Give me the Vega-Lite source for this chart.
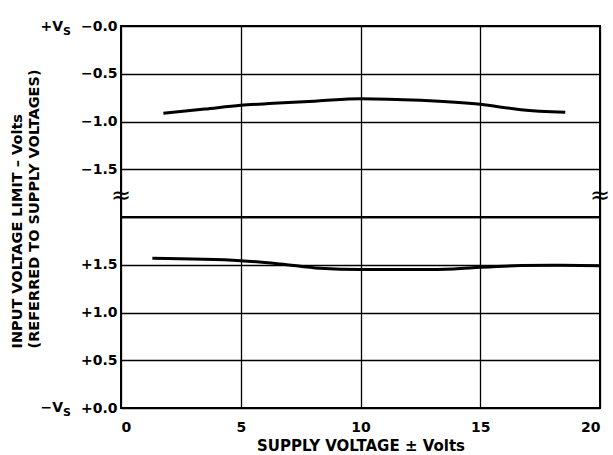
{
  "$schema": "https://vega.github.io/schema/vega-lite/v6.json",
  "padding": {"left": 8, "top": 18, "right": 12, "bottom": 0},
  "spacing": 0,
  "bounds": "flush",
  "background": "white",
  "config": {
    "font": "DejaVu Sans",
    "view": {"stroke": "black", "strokeWidth": 2},
    "axis": {
      "gridColor": "black", "gridWidth": 1.3, "gridOpacity": 1,
      "domain": false, "ticks": false,
      "labelFont": "DejaVu Sans", "labelFontWeight": "bold", "labelFontSize": 14, "labelColor": "black",
      "titleFont": "DejaVu Sans", "titleFontWeight": "bold", "titleFontSize": 14.5, "titleColor": "black"
    }
  },
  "datasets": {
    "upper": [
      {"supply": 1.77, "limit": -0.914},
      {"supply": 3.5, "limit": -0.87},
      {"supply": 5.0, "limit": -0.83},
      {"supply": 6.36, "limit": -0.81},
      {"supply": 8.2, "limit": -0.785},
      {"supply": 10.0, "limit": -0.761},
      {"supply": 12.5, "limit": -0.778},
      {"supply": 15.0, "limit": -0.82},
      {"supply": 16.7, "limit": -0.876},
      {"supply": 18.55, "limit": -0.904}
    ],
    "lower": [
      {"supply": 1.31, "limit": 1.567},
      {"supply": 5.0, "limit": 1.543},
      {"supply": 6.64, "limit": 1.509},
      {"supply": 8.3, "limit": 1.463},
      {"supply": 10.0, "limit": 1.449},
      {"supply": 12.5, "limit": 1.449},
      {"supply": 13.9, "limit": 1.456},
      {"supply": 15.0, "limit": 1.473},
      {"supply": 16.7, "limit": 1.491},
      {"supply": 18.0, "limit": 1.494},
      {"supply": 20.0, "limit": 1.49}
    ],
    "marks": [
      {"label": "≈", "supply": 0, "limit": -1.78},
      {"label": "≈", "supply": 20, "limit": -1.78}
    ]
  },
  "vconcat": [
    {
      "width": 479,
      "height": 191,
      "layer": [
        {
          "data": {"name": "upper"},
          "mark": {"type": "line", "color": "black", "strokeWidth": 3, "interpolate": "monotone"},
          "encoding": {
            "x": {"field": "supply", "type": "quantitative", "scale": {"domain": [0, 20], "nice": false},
                  "axis": {"values": [0, 5, 10, 15, 20], "labels": false, "title": null, "grid": true}},
            "y": {"field": "limit", "type": "quantitative", "scale": {"domain": [-2, 0], "nice": false},
                  "axis": {"values": [-2, -1.5, -1, -0.5, 0], "grid": true, "labelPadding": 4,
                           "labelExpr": "datum.value <= -2 ? '' : '−' + format(abs(datum.value), '.1f')",
                           "title": ["INPUT VOLTAGE LIMIT – Volts", "(REFERRED TO SUPPLY VOLTAGES)"],
                           "titleAngle": -90, "titleAlign": "left", "titleBaseline": "bottom",
                           "titleX": -97, "titleY": 322, "titleLineHeight": 17}}
          }
        },
        {
          "data": {"name": "marks"},
          "mark": {"type": "text", "fontSize": 24, "color": "black", "align": "center", "baseline": "middle", "clip": false},
          "encoding": {
            "x": {"field": "supply", "type": "quantitative"},
            "y": {"field": "limit", "type": "quantitative"},
            "text": {"field": "label"}
          }
        },
        {
          "data": {"values": [{"supply": 0, "limit": 0, "label": "+V"}]},
          "mark": {"type": "text", "fontSize": 14, "fontWeight": "bold", "color": "black", "align": "right", "baseline": "middle", "dx": -58, "dy": 1, "clip": false},
          "encoding": {
            "x": {"field": "supply", "type": "quantitative"},
            "y": {"field": "limit", "type": "quantitative"},
            "text": {"field": "label"}
          }
        },
        {
          "data": {"values": [{"supply": 0, "limit": 0, "label": "S"}]},
          "mark": {"type": "text", "fontSize": 11, "fontWeight": "bold", "color": "black", "align": "left", "baseline": "middle", "dx": -58, "dy": 6, "clip": false},
          "encoding": {
            "x": {"field": "supply", "type": "quantitative"},
            "y": {"field": "limit", "type": "quantitative"},
            "text": {"field": "label"}
          }
        }
      ]
    },
    {
      "width": 479,
      "height": 191,
      "layer": [
        {
          "data": {"name": "lower"},
          "mark": {"type": "line", "color": "black", "strokeWidth": 3, "interpolate": "monotone"},
          "encoding": {
            "x": {"field": "supply", "type": "quantitative", "scale": {"domain": [0, 20], "nice": false},
                  "axis": {"values": [0, 5, 10, 15, 20], "grid": true, "labelPadding": 12,
                           "title": "SUPPLY VOLTAGE ± Volts", "titlePadding": 4, "titleFontSize": 15}},
            "y": {"field": "limit", "type": "quantitative", "scale": {"domain": [0, 2], "nice": false},
                  "axis": {"values": [0, 0.5, 1, 1.5, 2], "grid": true, "labelPadding": 4, "title": null,
                           "labelExpr": "datum.value >= 2 ? '' : '+' + format(datum.value, '.1f')"}}
          }
        },
        {
          "data": {"values": [{"supply": 0, "limit": 0, "label": "−V"}]},
          "mark": {"type": "text", "fontSize": 14, "fontWeight": "bold", "color": "black", "align": "right", "baseline": "middle", "dx": -58, "dy": 0, "clip": false},
          "encoding": {
            "x": {"field": "supply", "type": "quantitative"},
            "y": {"field": "limit", "type": "quantitative"},
            "text": {"field": "label"}
          }
        },
        {
          "data": {"values": [{"supply": 0, "limit": 0, "label": "S"}]},
          "mark": {"type": "text", "fontSize": 11, "fontWeight": "bold", "color": "black", "align": "left", "baseline": "middle", "dx": -58, "dy": 5, "clip": false},
          "encoding": {
            "x": {"field": "supply", "type": "quantitative"},
            "y": {"field": "limit", "type": "quantitative"},
            "text": {"field": "label"}
          }
        }
      ]
    }
  ]
}
